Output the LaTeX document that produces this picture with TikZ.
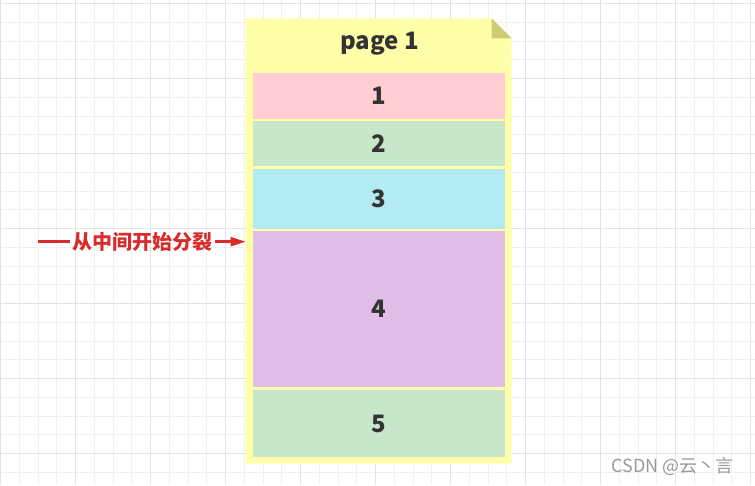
\documentclass[tikz,border=0pt]{standalone}
\usepackage{fontspec}
\setmainfont{Noto Sans CJK SC}
\newfontfamily\cjkfont{Noto Sans CJK SC}
\usetikzlibrary{arrows.meta,positioning}

\definecolor{gridlt}{HTML}{F0F0F0}
\definecolor{griddk}{HTML}{E3E3E3}
\definecolor{pageyellow}{HTML}{FFFFAA}
\definecolor{foldolive}{HTML}{CCCC77}
\definecolor{blkred}{HTML}{FFCDD2}
\definecolor{blkgreen}{HTML}{C8E6C9}
\definecolor{blkcyan}{HTML}{B2EBF2}
\definecolor{blkpurple}{HTML}{E1BEE7}
\definecolor{textgray}{HTML}{333333}
\definecolor{splitred}{HTML}{D92B2B}
\definecolor{wmgray}{HTML}{9A9A9A}

\begin{document}
\begin{tikzpicture}[x=1pt, y=-1pt,
  every node/.style={font=\bfseries\fontsize{24}{24}\selectfont, text=textgray},
  gridminor/.style={draw=gridlt, line width=1pt},
  gridmajor/.style={draw=griddk, line width=1pt},
  block/.style={anchor=north, minimum width=252.3pt, inner sep=0pt},
  splitarrow/.style={draw=splitred, line width=2.5pt}]

  \useasboundingbox (0,0) rectangle (755,485);
  \fill[white] (0,0) rectangle (755,485);

  % Background grid, a heavier line every fourth one.
  \foreach \k in {0,...,40}{\draw[gridminor] ({0.7+18.75*\k},0) -- ++(0,485);}
  \foreach \k in {0,...,25}{\draw[gridminor] (0,{3.7+18.75*\k}) -- ++(755,0);}
  \foreach \k in {0,...,10}{\draw[gridmajor] ({0.7+75*\k},0) -- ++(0,485);}
  \foreach \k in {0,...,6}{\draw[gridmajor] (0,{3.7+75*\k}) -- ++(755,0);}

  % The page, with its folded corner.
  \fill[pageyellow] (245.7,18.3) -- (491.7,18.3) -- (511.7,38.3)
    -- (511.7,463.7) -- (245.7,463.7) -- cycle;
  \fill[foldolive] (491.7,18.3) -- (511.7,38.3) -- (491.7,38.3) -- cycle;
  \node[inner sep=0pt, minimum width=266pt, minimum height=445.4pt,
    anchor=north west] (page) at (245.7,18.3) {};
  \node[anchor=base] (pagettl) at (379.5,49.3) {page 1};

  % Records inside the page.
  \foreach \n/\top/\bot/\col in {
    1/72.3/118.3/blkred,
    2/121/165.7/blkgreen,
    3/169/228.3/blkcyan,
    4/231/386.7/blkpurple,
    5/390/456.7/blkgreen%
  }{
    \node[block, fill=\col, minimum height={(\bot-\top)*1pt}] (blk\n) at (378.8,\top) {\n};
  }

  % Where the split starts.
  \coordinate (tail) at (38,241.7);
  \node[inner sep=2pt, text=splitred, font=\cjkfont\bfseries\fontsize{20}{20}\selectfont]
    (splitlbl) at (142.5,241.7) {从中间开始分裂};
  \draw[splitarrow] (tail) -- (splitlbl);
  \draw[splitarrow, -{Triangle[length=15pt, width=9pt]}] (splitlbl) -- (page.west |- splitlbl);

  % Watermark.
  \node[anchor=base east, text=wmgray, font=\cjkfont\fontsize{18}{18}\selectfont]
    (wmark) at (737,472) {CSDN @云丶言};
\end{tikzpicture}
\end{document}
